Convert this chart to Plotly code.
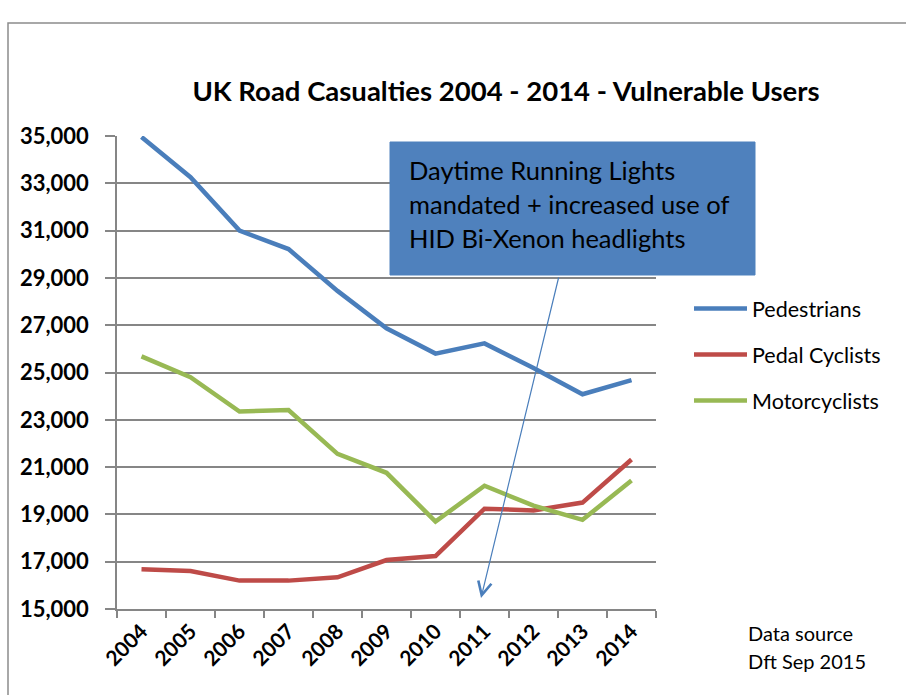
import plotly.graph_objects as go

years = [str(y) for y in range(2004, 2015)]
pedestrians = [34960, 33260, 31000, 30220, 28450, 26870, 25800, 26230, 25190, 24080, 24680]
pedal_cyclists = [16680, 16610, 16200, 16200, 16340, 17070, 17240, 19240, 19170, 19500, 21320]
motorcyclists = [25680, 24800, 23350, 23410, 21560, 20760, 18700, 20210, 19370, 18770, 20430]
y_ticks = list(range(15000, 35001, 2000))

W, H = 906, 695
L, R, T, B = 117, 656, 136, 609  # plot area in pixels


def px(x):
    return (x - L) / (R - L)


def py(y):
    return (B - y) / (B - T)


FONT = "Lato, 'Open Sans', sans-serif"

fig = go.Figure()
series = [("Pedestrians", pedestrians, "#4A7EBB"),
          ("Pedal Cyclists", pedal_cyclists, "#BE4B48"),
          ("Motorcyclists", motorcyclists, "#98B954")]
for name, vals, col in series:
    fig.add_trace(go.Scatter(x=years, y=vals, name=name, mode="lines",
                             line=dict(color=col, width=4.5),
                             legendgroup=name, cliponaxis=False))

fig.update_layout(
    width=W, height=H,
    margin=dict(l=L, r=W - R, t=T, b=H - B, autoexpand=False),
    paper_bgcolor="white", plot_bgcolor="white",
    font=dict(family=FONT, color="black"),
    title=dict(text="<b>UK Road Casualties 2004 - 2014 - Vulnerable Users</b>",
               font=dict(size=27.5, family=FONT, color="black"),
               xref="paper", x=px(506), xanchor="center",
               yref="container", y=1 - 91 / H, yanchor="middle"),
    showlegend=True,
    legend=dict(x=px(689), xanchor="left", y=py(288), yanchor="top",
                font=dict(size=21.5, family=FONT, color="black"),
                itemwidth=53, tracegroupgap=15, bgcolor="rgba(0,0,0,0)"),
    xaxis=dict(type="category", range=[-0.5, 10.5], tickson="boundaries",
               ticks="outside", ticklen=7, tickcolor="#868686", tickwidth=1.5,
               showline=True, linecolor="#868686", linewidth=1.5,
               showgrid=False, tickangle=-45,
               tickfont=dict(size=21, family=FONT, color="black", weight="bold"),
               fixedrange=True),
    yaxis=dict(range=[15000, 35000], tickvals=y_ticks,
               ticktext=[f"{v:,}" for v in y_ticks],
               ticks="outside", ticklen=10, tickcolor="#868686", tickwidth=1.5,
               showline=True, linecolor="#868686", linewidth=1.5,
               showgrid=True, gridcolor="#868686", gridwidth=1.5,
               zeroline=False, ticklabelstandoff=12,
               tickfont=dict(size=22, family=FONT, color="black", weight="bold"),
               fixedrange=True),
)

# outer chart border
fig.add_shape(type="rect", xref="paper", yref="paper",
              x0=px(8), x1=px(915), y0=py(705), y1=py(23),
              line=dict(color="#8C8C8C", width=1.5), fillcolor="rgba(0,0,0,0)",
              layer="below")

# annotation box
fig.add_shape(type="rect", xref="paper", yref="paper",
              x0=px(390), x1=px(755), y0=py(275), y1=py(142),
              line=dict(color="#4F81BD", width=1), fillcolor="#4F81BD",
              layer="above")
box_lines = ["Daytime Running Lights", "mandated + increased use of",
             "HID Bi-Xenon headlights"]
for i, t in enumerate(box_lines):
    fig.add_annotation(text=t, xref="paper", yref="paper",
                       x=px(407), y=py(170 + 34 * i), xanchor="left",
                       yanchor="middle", showarrow=False,
                       font=dict(size=25.5, family=FONT, color="black"))

# arrow
fig.add_annotation(text="", xref="paper", yref="paper",
                   x=px(481), y=py(598), ax=559 - 481, ay=276 - 598,
                   showarrow=True, arrowhead=5, arrowsize=2.2, arrowwidth=1.2,
                   arrowcolor="#4A7EBB")

# data source
for i, t in enumerate(["Data source", "Dft Sep 2015"]):
    fig.add_annotation(text=t, xref="paper", yref="paper",
                       x=px(746), y=py(633 + 28 * i), xanchor="left",
                       yanchor="middle", showarrow=False,
                       font=dict(size=20, family=FONT, color="black"))

fig.write_html("out.html", config={"displayModeBar": False},
               post_script="document.body.style.margin='0';"
                           "document.documentElement.style.overflow='hidden';")
